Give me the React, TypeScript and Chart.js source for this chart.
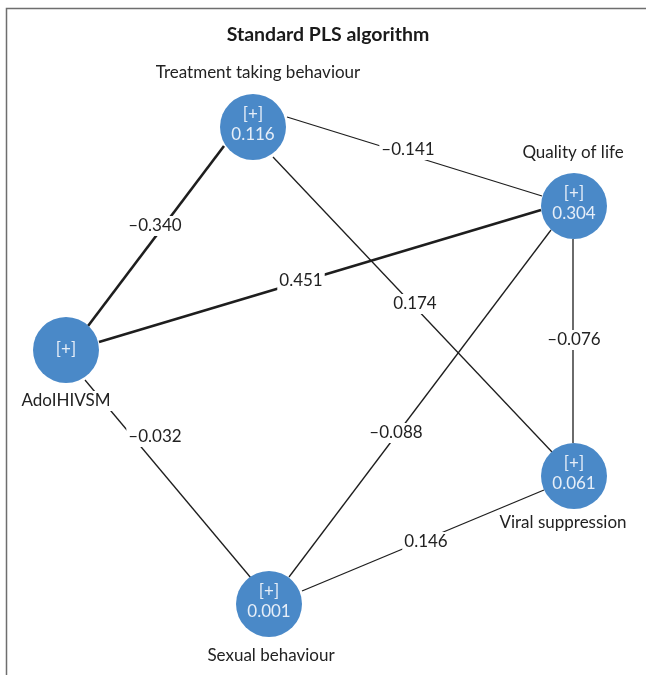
import React, { useEffect, useRef } from "react";
import { Chart, registerables } from "chart.js";

Chart.register(...registerables);

const chartTitle = "Standard PLS algorithm";

// Constructs (nodes)
const nodeNames = ["Treatment taking behaviour", "Quality of life", "AdoIHIVSM", "Viral suppression", "Sexual behaviour"];
const nodeX = [253, 574, 66, 574, 269];
const nodeY = [127, 206, 350, 476, 604];
const nodeR2: (number | null)[] = [0.116, 0.304, null, 0.061, 0.001];
const nodeNameX = [258, 573, 66, 563, 271];
const nodeNameY = [73, 153, 401, 523, 656];

// Paths (edges)
const edgeCoef = [-0.141, -0.34, 0.451, 0.174, -0.076, -0.088, -0.032, 0.146];
const edgeX1 = [287, 224, 99, 273, 573, 551, 85, 302];
const edgeY1 = [117, 146, 342, 157, 239, 230, 380, 591];
const edgeX2 = [542, 88, 541, 552, 573, 289, 251, 544];
const edgeY2 = [196, 326, 210, 452, 443, 577, 578, 490];
const edgeStrong = [false, true, true, false, false, false, false, false];
const edgeLabelX = [408, 155, 301, 415, 574, 396, 155, 426];
const edgeLabelY = [150, 226, 281, 304, 340, 433, 437, 542];

const FONT = "Lato, 'Noto Sans', sans-serif";
const fmt = (v: number) => (v < 0 ? "\u2013" : "") + Math.abs(v).toFixed(3);

export default function App() {
  const ref = useRef<HTMLCanvasElement | null>(null);

  useEffect(() => {
    if (!ref.current) return;
    const edgeSets = edgeCoef.map((c, i) => ({
      type: "scatter" as const,
      label: fmt(c),
      data: [
        { x: edgeX1[i], y: edgeY1[i] },
        { x: edgeX2[i], y: edgeY2[i] },
      ],
      showLine: true,
      borderColor: "#1e1e1e",
      borderWidth: edgeStrong[i] ? 2.6 : 1.3,
      pointRadius: 0,
      pointHoverRadius: 0,
      order: 2,
    }));
    const nodeSet = {
      type: "scatter" as const,
      label: "nodes",
      data: nodeX.map((x, i) => ({ x, y: nodeY[i] })),
      pointRadius: 33,
      pointHoverRadius: 33,
      backgroundColor: "#4a89c8",
      borderWidth: 0,
      order: 1,
    };

    const textPlugin = {
      id: "pathText",
      beforeDraw(chart: any) {
        const ctx = chart.ctx;
        ctx.save();
        ctx.fillStyle = "#ffffff";
        ctx.fillRect(0, 0, chart.width, chart.height);
        ctx.strokeStyle = "#6e6e6e";
        ctx.lineWidth = 1.5;
        ctx.beginPath();
        ctx.moveTo(6.5, chart.height);
        ctx.lineTo(6.5, 8.5);
        ctx.lineTo(chart.width, 8.5);
        ctx.stroke();
        ctx.restore();
      },
      afterDatasetsDraw(chart: any) {
        const ctx = chart.ctx;
        const xs = chart.scales.x;
        const ys = chart.scales.y;
        ctx.save();
        ctx.textAlign = "center";
        ctx.textBaseline = "middle";

        // title
        ctx.fillStyle = "#1a1a1a";
        ctx.font = `bold 19.5px ${FONT}`;
        ctx.fillText(chartTitle, 328, 35);

        const boxed = (txt: string, px: number, py: number, font: string) => {
          ctx.font = font;
          const w = ctx.measureText(txt).width;
          ctx.fillStyle = "#ffffff";
          ctx.fillRect(px - w / 2 - 2, py - 10, w + 4, 20);
          ctx.fillStyle = "#222222";
          ctx.fillText(txt, px, py);
        };

        // edge coefficients
        edgeCoef.forEach((c, i) => {
          boxed(fmt(c), xs.getPixelForValue(edgeLabelX[i]), ys.getPixelForValue(edgeLabelY[i]), `17px ${FONT}`);
        });

        // node names
        nodeNames.forEach((n, i) => {
          boxed(n, xs.getPixelForValue(nodeNameX[i]), ys.getPixelForValue(nodeNameY[i]), `17px ${FONT}`);
        });

        // node inner text
        ctx.fillStyle = "#e6eef8";
        ctx.font = `17px ${FONT}`;
        nodeX.forEach((x, i) => {
          const px = xs.getPixelForValue(x);
          const py = ys.getPixelForValue(nodeY[i]);
          const r2 = nodeR2[i];
          if (r2 === null) {
            ctx.fillText("[+]", px, py);
          } else {
            ctx.fillText("[+]", px, py - 12);
            ctx.fillText(r2.toFixed(3), px, py + 8);
          }
        });
        ctx.restore();
      },
    };

    const chart = new Chart(ref.current, {
      type: "scatter",
      data: { datasets: [nodeSet as any, ...edgeSets] },
      options: {
        animation: false,
        responsive: false,
        maintainAspectRatio: false,
        layout: { padding: 0, autoPadding: false },
        events: [],
        plugins: { legend: { display: false }, tooltip: { enabled: false }, title: { display: false } },
        scales: {
          x: { type: "linear", min: 0, max: 646, display: false },
          y: { type: "linear", min: 0, max: 675, reverse: true, display: false },
        },
      },
      plugins: [textPlugin],
    });
    return () => chart.destroy();
  }, []);

  return (
    <div style={{ position: "fixed", left: 0, top: 0, width: 646, height: 675, background: "#fff" }}>
      <canvas ref={ref} width={646} height={675} style={{ display: "block", width: 646, height: 675 }} />
    </div>
  );
}
